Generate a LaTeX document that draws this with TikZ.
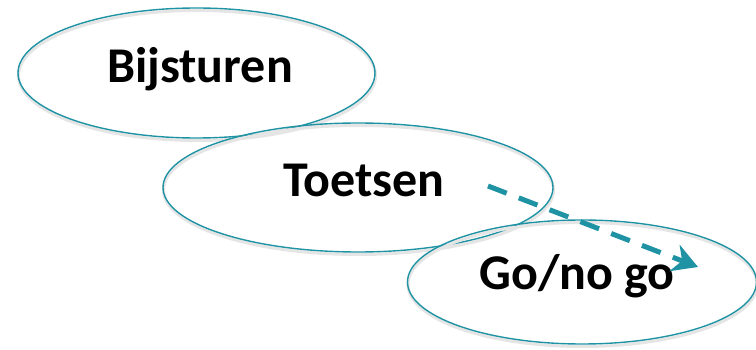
\documentclass[tikz,border=0pt]{standalone}
\usepackage{fontspec}
\setmainfont{Carlito}
\usetikzlibrary{shapes.geometric,arrows.meta}
\definecolor{tealline}{HTML}{1F93A3}

\tikzset{
    phase/.style={ellipse, draw=tealline, line width=1.4pt, inner sep=0pt,
        preaction={draw=black!10, line width=3pt, transform canvas={shift={(0.5pt,-2.5pt)}}}},
    phasetxt/.style={font=\bfseries\fontsize{50}{60}\selectfont, anchor=base, inner sep=0pt},
    flow/.style={draw=tealline, line width=5pt, dash pattern=on 20pt off 13pt,
        -{Stealth[length=25pt, width=28pt, inset=8pt]}}
}

\begin{document}
\begin{tikzpicture}[x=1pt, y=-1pt]
    \useasboundingbox (0,0) rectangle (756,350);
    % ellipses
    \node[phase, minimum width=357pt, minimum height=130pt] (bij) at (196.5,73) {};
    \node[phase, minimum width=390pt, minimum height=129pt] (toe) at (358,187.5) {};
    \node[phase, minimum width=349pt, minimum height=124pt] (go) at (582,282) {};
    % labels
    \node[phasetxt] (bijtxt) at (200,83) {Bijsturen};
    \node[phasetxt] (toetxt) at (364,197) {Toetsen};
    \node[phasetxt] (gotxt) at (577,290) {Go/no go};
    % arrow
    \coordinate (from) at (488,186);
    \coordinate (to) at (698,267);
    \draw[flow] (from) -- (to);
\end{tikzpicture}
\end{document}
